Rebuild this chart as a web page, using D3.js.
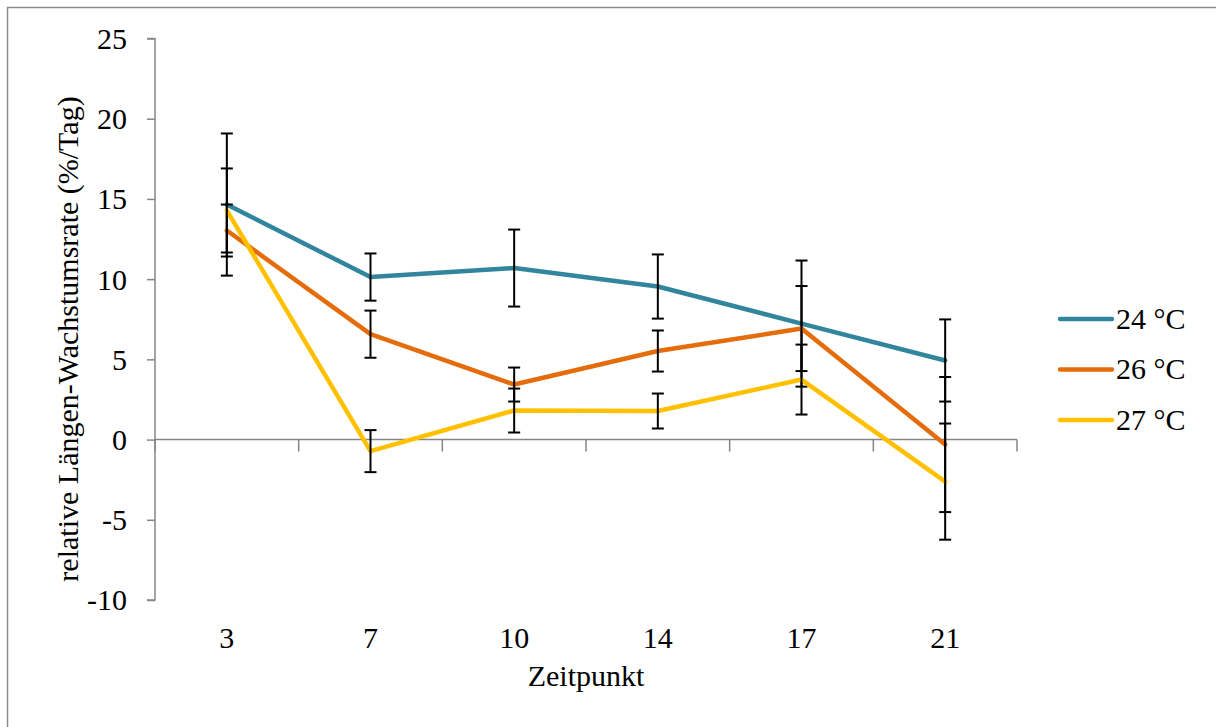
<!DOCTYPE html>
<html>
<head>
<meta charset="utf-8">
<script src="https://cdn.jsdelivr.net/npm/d3@7/dist/d3.min.js"></script>
<style>
  html, body { margin: 0; padding: 0; background: #fff; }
  svg text { font-family: "Liberation Serif", "Times New Roman", serif !important; fill: #000; }
</style>
</head>
<body>
<svg id="chart" width="1216" height="727"></svg>
<script>
const categories = ["3", "7", "10", "14", "17", "21"];
const seriesNames = ["24 °C", "26 °C", "27 °C"];
const values24 = [14.65, 10.13, 10.69, 9.54, 7.23, 4.93];
const errors24 = [4.43, 1.47, 2.40, 2.00, 3.93, 2.56];
const values26 = [13.03, 6.57, 3.43, 5.52, 6.92, -0.31];
const errors26 = [1.62, 1.47, 1.06, 1.28, 2.65, 4.21];
const values27 = [14.28, -0.72, 1.81, 1.78, 3.74, -2.62];
const errors27 = [2.62, 1.31, 1.37, 1.09, 2.18, 3.62];
const yTicks = [-10, -5, 0, 5, 10, 15, 20, 25];
const yTickLabels = ["-10", "-5", "0", "5", "10", "15", "20", "25"];
const colors = ["#31859C", "#E46C0A", "#FFC000"];
const xTitle = "Zeitpunkt";
const yTitle = "relative Längen-Wachstumsrate (%/Tag)";

const series = [
  { name: seriesNames[0], values: values24, errors: errors24, color: colors[0] },
  { name: seriesNames[1], values: values26, errors: errors26, color: colors[1] },
  { name: seriesNames[2], values: values27, errors: errors27, color: colors[2] }
];

const svg = d3.select("#chart");
const plotLeft = 155, plotRight = 1017, plotTop = 38.5, plotBottom = 600;
const axisColor = "#868686";
const fs = 30;
const serif = '"Liberation Serif", "Times New Roman", serif';

// outer frame
svg.append("path")
  .attr("d", "M7.5,727 L7.5,7.5 L1216,7.5")
  .attr("fill", "none").attr("stroke", "#8c8c8c").attr("stroke-width", 1.5);

const x = d3.scaleBand().domain(categories).range([plotLeft, plotRight]).paddingInner(0).paddingOuter(0);
const y = d3.scaleLinear().domain([-10, 25]).range([plotBottom, plotTop]);
const cx = d => x(d) + x.bandwidth() / 2;

// y axis
const yAxis = d3.axisLeft(y).tickValues(yTicks).tickSize(8).tickPadding(20)
  .tickFormat((d, i) => yTickLabels[i]);
const gy = svg.append("g").attr("transform", `translate(${plotLeft},0)`).call(yAxis)
  .attr("font-family", null).attr("font-size", null);
gy.select(".domain").attr("stroke", axisColor).attr("stroke-width", 1.5).attr("d", `M-8,${y(25)}H0V${y(-10)}H-8`);
gy.selectAll(".tick line").attr("stroke", axisColor).attr("stroke-width", 1.5);
gy.selectAll(".tick text").style("font-family", serif).style("font-size", fs + "px")
  .attr("fill", "#000").attr("dy", "0.33em");

// x axis line at y=0 with boundary ticks
const y0 = y(0);
const boundaries = categories.map(c => x(c)).concat([plotRight]);
svg.append("line").attr("x1", plotLeft).attr("x2", plotRight).attr("y1", y0).attr("y2", y0)
  .attr("stroke", axisColor).attr("stroke-width", 1.5);
svg.selectAll(".xtick").data(boundaries).enter().append("line")
  .attr("x1", d => d).attr("x2", d => d).attr("y1", y0).attr("y2", y0 + 12)
  .attr("stroke", axisColor).attr("stroke-width", 1.5);

// x labels at bottom
svg.selectAll(".xlab").data(categories).enter().append("text")
  .attr("x", d => cx(d)).attr("y", 648)
  .attr("text-anchor", "middle").style("font-size", fs + "px").text(d => d);

// titles
svg.append("text").attr("x", (plotLeft + plotRight) / 2).attr("y", 686)
  .attr("text-anchor", "middle").style("font-size", fs + "px").text(xTitle);
svg.append("text").attr("transform", "translate(78,339) rotate(-90)")
  .attr("text-anchor", "middle").style("font-size", fs + "px").text(yTitle);

// series
const line = d3.line().x((d, i) => cx(categories[i])).y(d => y(d));
series.forEach(s => {
  svg.append("path").datum(s.values).attr("d", line)
    .attr("fill", "none").attr("stroke", s.color).attr("stroke-width", 4.5)
    .attr("stroke-linecap", "round").attr("stroke-linejoin", "round");
  const g = svg.append("g").attr("stroke", "#000").attr("stroke-width", 2);
  s.values.forEach((v, i) => {
    const px = cx(categories[i]);
    const hi = y(v + s.errors[i]), lo = y(v - s.errors[i]);
    g.append("line").attr("x1", px).attr("x2", px).attr("y1", hi).attr("y2", lo);
    g.append("line").attr("x1", px - 6).attr("x2", px + 6).attr("y1", hi).attr("y2", hi);
    g.append("line").attr("x1", px - 6).attr("x2", px + 6).attr("y1", lo).attr("y2", lo);
  });
});

// legend
const legendY = [319, 369.5, 420];
series.forEach((s, i) => {
  svg.append("line").attr("x1", 1060).attr("x2", 1112).attr("y1", legendY[i]).attr("y2", legendY[i])
    .attr("stroke", s.color).attr("stroke-width", 4.5).attr("stroke-linecap", "round");
  svg.append("text").attr("x", 1116).attr("y", legendY[i]).attr("dy", "0.33em")
    .style("font-size", fs + "px").text(s.name);
});
</script>
</body>
</html>
